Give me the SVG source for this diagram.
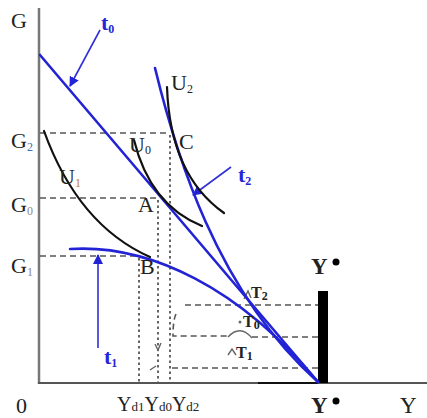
<svg xmlns="http://www.w3.org/2000/svg" width="427" height="418" viewBox="0 0 427 418">
<defs>
<style>
text{font-family:"Liberation Serif","Times New Roman",serif;fill:#222}
.lab{font-size:22px}
.sub{font-size:12px}
.blue{fill:#2626d8;font-weight:bold}
.T{font-size:16px;font-weight:bold}
.bl{fill:none;stroke:#2323d6;stroke-width:2.6;stroke-linecap:round}
.u{fill:none;stroke:#111;stroke-width:2.2;stroke-linecap:round}
.dash{fill:none;stroke:#555;stroke-width:1.6;stroke-dasharray:6 4}
.dot{fill:none;stroke:#555;stroke-width:1.8;stroke-dasharray:2.5 3}
.mk{fill:none;stroke:#666;stroke-width:1.4}
.arr{fill:none;stroke:#3030d8;stroke-width:1.6}
</style>
<marker id="ah" markerWidth="10" markerHeight="10" refX="9" refY="5" orient="auto" markerUnits="userSpaceOnUse">
<path d="M0,0 L10,5 L0,10 Z" fill="#2323d6"/>
</marker>
</defs>
<rect width="427" height="418" fill="#fff"/>
<g id="axes">
<line x1="39" y1="8" x2="39" y2="384" stroke="#777" stroke-width="2.5"/>
<line x1="38" y1="383" x2="427" y2="383" stroke="#555" stroke-width="2.2"/>
<line x1="258" y1="383" x2="318" y2="383" stroke="#111" stroke-width="2.2"/>
<rect x="318" y="291" width="10" height="92" fill="#000"/>
</g>
<g id="connectors">
<path class="dash" d="M40,133 L168,133"/>
<path class="dash" d="M40,198 L158,198"/>
<path class="dash" d="M40,256 L140,256"/>
<path class="dot" d="M139,258 L139,383"/>
<path class="dot" d="M158,200 L158,383"/>
<path class="dot" d="M170,135 L170,383"/>
<path class="dash" d="M185,305 L318,305"/>
<path class="dash" d="M176,314 Q173,320 173,336 L228,336"/>
<path class="dash" d="M252,337 L318,337"/>
<path class="mk" d="M228,337 Q240,324 252,338"/>
<path class="dash" d="M172,368 L318,368"/>
<path class="mk" d="M228,355 L232,349 L236,355"/>
<path class="mk" d="M244,299 L248,291 L251,298"/>
<circle cx="240" cy="322" r="1.5" fill="#666"/>
<path class="mk" d="M150,370 L156,366 M155,344 L158,350 L161,343"/>
</g>
<g id="t0">
<path class="bl" d="M40,55 L318,382"/>
<path class="arr" d="M100,30 L70,86" marker-end="url(#ah)"/>
<text class="lab blue" x="101" y="30">t<tspan class="sub" dy="3">0</tspan></text>
</g>
<g id="t2">
<path class="bl" d="M155,68 C175,150 215,290 318,382"/>
<path class="arr" d="M231,167 L193,195" marker-end="url(#ah)"/>
<text class="lab blue" x="238" y="182">t<tspan class="sub" dy="3">2</tspan></text>
</g>
<g id="t1">
<path class="bl" d="M70,249 C150,244 240,288 318,382"/>
<path class="arr" d="M98,348 L98,255" marker-end="url(#ah)"/>
<text class="lab blue" x="104" y="364">t<tspan class="sub" dy="3">1</tspan></text>
</g>
<g id="U1">
<path class="u" d="M44,131 Q78,225 150,257"/>
<text class="lab" x="59" y="184">U<tspan class="sub" dy="3" fill="#c08020">1</tspan></text>
</g>
<g id="U0">
<path class="u" d="M134,140 Q150,205 202,226"/>
<text class="lab" x="129" y="152">U<tspan class="sub" dy="2">0</tspan></text>
</g>
<g id="U2">
<path class="u" d="M167,87 Q170,175 224,213"/>
<text class="lab" x="171" y="90">U<tspan class="sub" dy="3">2</tspan></text>
</g>
<g id="points">
<text class="lab" x="179" y="149">C</text>
<text class="lab" x="138" y="212">A</text>
<text class="lab" x="140" y="274">B</text>
<text class="T" x="251" y="298">T<tspan class="sub" dy="2">2</tspan></text>
<text class="T" x="243" y="327">T<tspan class="sub" dy="2">0</tspan></text>
<text class="T" x="236" y="358">T<tspan class="sub" dy="2">1</tspan></text>
</g>
<g id="labels">
<text class="lab" x="11" y="28">G</text>
<text class="lab" x="11" y="148">G<tspan class="sub" dy="3" fill="#3a6fb0">2</tspan></text>
<text class="lab" x="11" y="212">G<tspan class="sub" dy="3" fill="#888">0</tspan></text>
<text class="lab" x="11" y="273">G<tspan class="sub" dy="3" fill="#888">1</tspan></text>
<text class="lab" x="16" y="413">0</text>
<text x="117" y="411" font-size="20">Y<tspan font-size="13">d1</tspan>Y<tspan font-size="13">d0</tspan>Y<tspan font-size="13">d2</tspan></text>
<text x="311" y="274" font-size="23" font-weight="bold">Y</text>
<circle cx="336" cy="262" r="3.5" fill="#000"/>
<text x="311" y="413" font-size="23" font-weight="bold">Y</text>
<circle cx="336" cy="401" r="3.5" fill="#000"/>
<text x="400" y="413" font-size="23">Y</text>
</g>
</svg>
